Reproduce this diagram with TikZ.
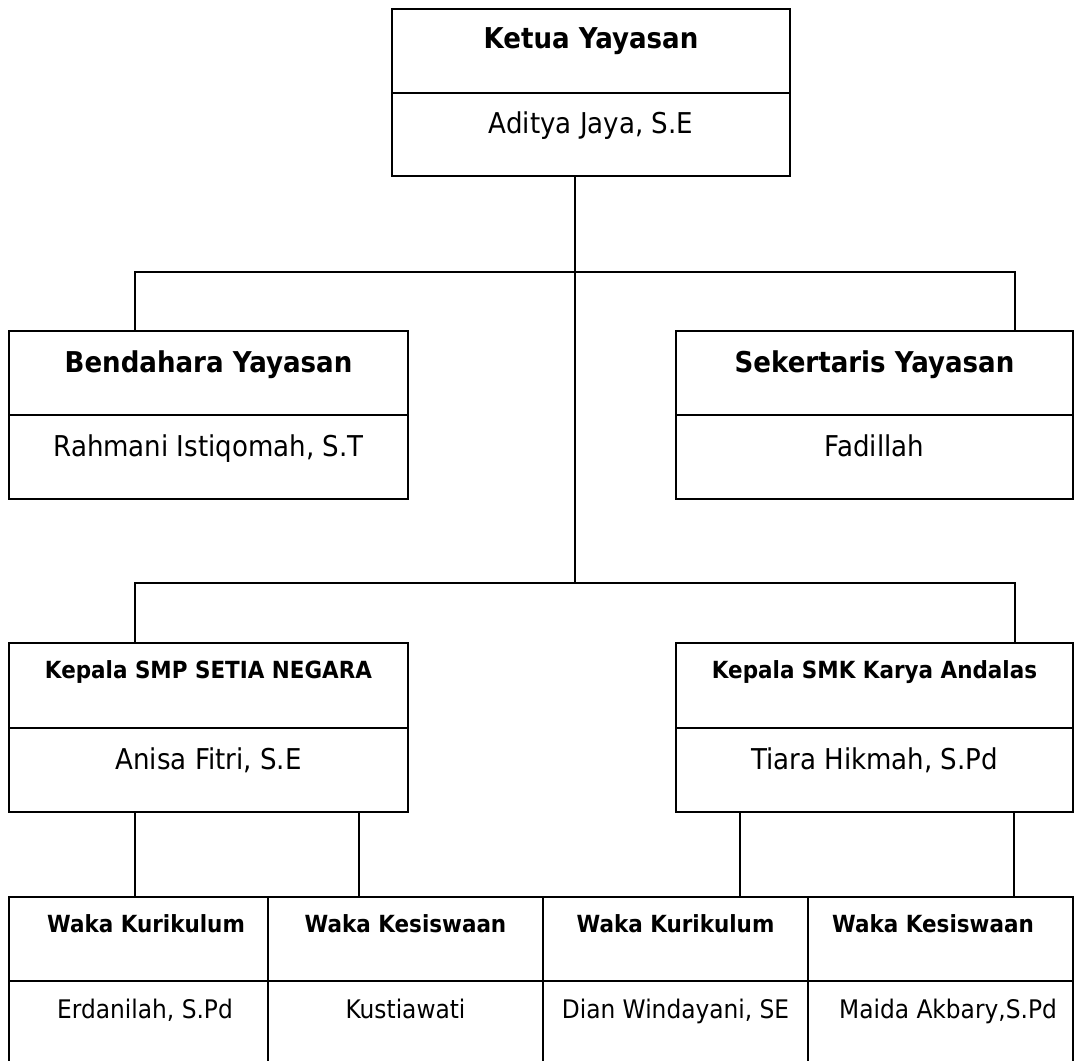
\documentclass[tikz,border=0pt]{standalone}
\usepackage{fontspec}
\setmainfont{DejaVu Sans}[FakeStretch=0.91]
\usetikzlibrary{fit}
\begin{document}
\begin{tikzpicture}[x=0.75pt,y=-0.75pt,
  lw/.style={line width=1.5pt},
  box/.style={draw, lw, inner sep=0pt, fit={#1}},
  bighdr/.style={font=\bfseries\fontsize{21.5}{24}\selectfont, anchor=base, inner sep=0pt},
  bigname/.style={font=\fontsize{21.5}{24}\selectfont, anchor=base, inner sep=0pt},
  smallhdr/.style={font=\bfseries\fontsize{17.7}{20}\selectfont, anchor=base, inner sep=0pt},
  smallname/.style={font=\fontsize{19.2}{22}\selectfont, anchor=base, inner sep=0pt},
  conn/.style={draw, lw}
]
\useasboundingbox (0,0) rectangle (1077,1060);
\clip (0,0) rectangle (1077,1060);

% boxes
\node[box={(392,9) (790,176)}] (ketua) {};
\node[box={(9,331) (408,499)}] (bend) {};
\node[box={(676,331) (1073,499)}] (sek) {};
\node[box={(9,643) (408,812)}] (smp) {};
\node[box={(676,643) (1073,812)}] (smk) {};
\node[box={(9,897) (268,1065)}] (wk1) {};
\node[box={(268,897) (543,1065)}] (wks1) {};
\node[box={(543,897) (808,1065)}] (wk2) {};
\node[box={(808,897) (1073,1065)}] (wks2) {};

% dividers
\foreach \n in {ketua,bend,sek,smp,smk,wk1,wks1,wk2,wks2}
  \draw[lw] (\n.west) -- (\n.east);

% texts
\node[bighdr] (ketuaT) at (591,48) {Ketua Yayasan};
\node[bigname] (ketuaN) at (591,133) {Aditya Jaya, S.E};
\node[bighdr] (bendT) at (208.5,372) {Bendahara Yayasan};
\node[bigname] (bendN) at (208.5,456) {Rahmani Istiqomah, S.T};
\node[bighdr] (sekT) at (874.5,372) {Sekertaris Yayasan};
\node[bigname] (sekN) at (874.5,456) {Fadillah};
\node[smallhdr] (smpT) at (208.5,678) {Kepala SMP SETIA NEGARA};
\node[bigname] (smpN) at (208.5,769) {Anisa Fitri, S.E};
\node[smallhdr] (smkT) at (874.5,678) {Kepala SMK Karya Andalas};
\node[bigname] (smkN) at (874.5,769) {Tiara Hikmah, S.Pd};
\node[smallhdr] (wk1T) at (146,932) {Waka Kurikulum};
\node[smallname] (wk1N) at (145,1018) {Erdanilah, S.Pd};
\node[smallhdr] (wks1T) at (405.5,932) {Waka Kesiswaan};
\node[smallname] (wks1N) at (405.5,1018) {Kustiawati};
\node[smallhdr] (wk2T) at (675.5,932) {Waka Kurikulum};
\node[smallname] (wk2N) at (675.5,1018) {Dian Windayani, SE};
\node[smallhdr] (wks2T) at (933,932) {Waka Kesiswaan};
\node[smallname] (wks2N) at (948,1018) {Maida Akbary,S.Pd};

% connector coordinates
\coordinate (j1) at (575,272);
\coordinate (j2) at (575,583);
\coordinate (a1) at (135,272);
\coordinate (a2) at (1015,272);
\coordinate (b1) at (135,583);
\coordinate (b2) at (1015,583);
\coordinate (c1) at (135,0);
\coordinate (c2) at (359,0);
\coordinate (c3) at (740,0);
\coordinate (c4) at (1014,0);

% connectors
\draw[conn] (ketua.south -| j1) -- (j2);
\draw[conn] (bend.north -| a1) -- (a1) -- (a2) -- (sek.north -| a2);
\draw[conn] (smp.north -| b1) -- (b1) -- (b2) -- (smk.north -| b2);
\draw[conn] (smp.south -| c1) -- (wk1.north -| c1);
\draw[conn] (smp.south -| c2) -- (wks1.north -| c2);
\draw[conn] (smk.south -| c3) -- (wk2.north -| c3);
\draw[conn] (smk.south -| c4) -- (wks2.north -| c4);
\end{tikzpicture}
\end{document}
